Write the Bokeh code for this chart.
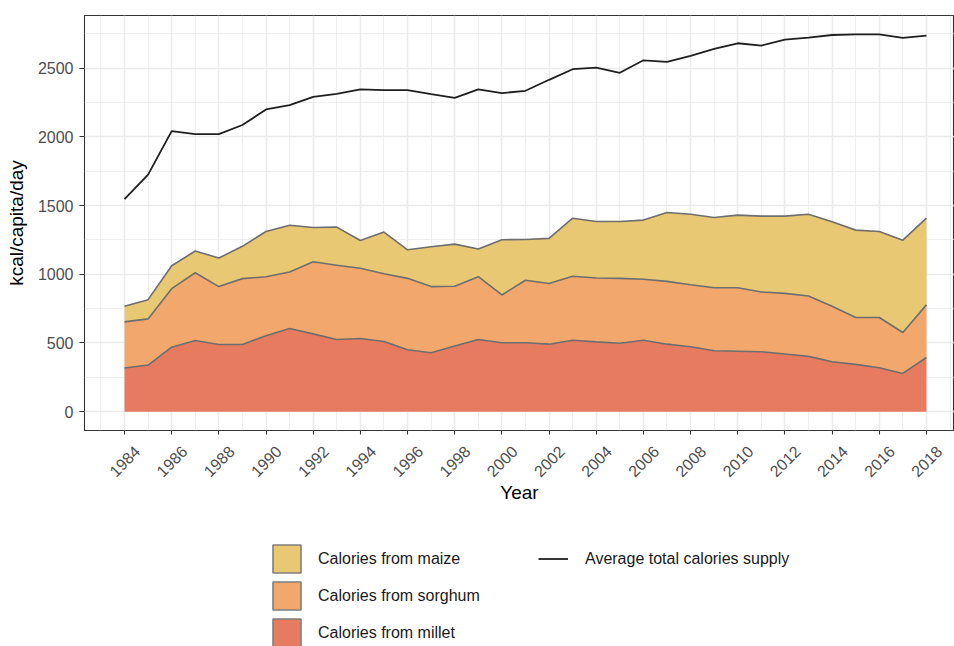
import math
from bokeh.plotting import figure
from bokeh.models import (Range1d, FixedTicker, Legend, LegendItem, ColumnDataSource,
                          LinearAxis)
from bokeh.layouts import column
from bokeh.embed import file_html
from bokeh.resources import INLINE

years = list(range(1984, 2019))
millet = [317, 339, 469, 518, 489, 489, 552, 605, 566, 525, 532, 511, 450, 428, 477, 525, 501, 501,
          491, 520, 508, 498, 520, 491, 472, 443, 440, 436, 419, 402, 363, 344, 319, 278, 394]
sorghum = [336, 336, 426, 493, 421, 479, 430, 411, 525, 540, 511, 493, 520, 482, 435, 457, 348, 455,
           441, 465, 465, 472, 443, 457, 452, 459, 462, 435, 442, 440, 404, 341, 366, 298, 383]
maize = [114, 140, 167, 158, 208, 235, 329, 341, 249, 278, 203, 303, 208, 290, 307, 201, 402, 297,
         329, 423, 411, 414, 431, 501, 513, 511, 528, 552, 562, 595, 615, 636, 626, 672, 631]
total = [1546, 1725, 2042, 2020, 2020, 2086, 2199, 2231, 2291, 2313, 2345, 2340, 2340, 2311, 2284,
         2345, 2318, 2335, 2415, 2492, 2504, 2466, 2557, 2545, 2589, 2640, 2681, 2664, 2707, 2722,
         2741, 2746, 2746, 2720, 2737]

x_ticks = list(range(1984, 2019, 2))
x_minor = list(range(1983, 2020, 2))
y_ticks = [0, 500, 1000, 1500, 2000, 2500]
y_minor = [250, 750, 1250, 1750, 2250, 2750]

area_labels = ["Calories from maize", "Calories from sorghum", "Calories from millet"]
line_label = "Average total calories supply"
x_title = "Year"
y_title = "kcal/capita/day"

c_millet = "#E67B60"
c_sorghum = "#F2A86D"
c_maize = "#E9C874"
c_edge = "#6E6E6E"
c_line = "#1F1F1F"
FONT = "Liberation Sans"

top1 = [m for m in millet]
top2 = [a + b for a, b in zip(top1, sorghum)]
top3 = [a + b for a, b in zip(top2, maize)]

src = ColumnDataSource(dict(year=years, millet=millet, sorghum=sorghum, maize=maize,
                            total=total, top1=top1, top2=top2, top3=top3))

X0, X1 = 1982.304, 2019.19
SHIFT = 0.534  # rotated tick labels are centred under their ticks

p = figure(width=954, height=520, x_range=Range1d(X0, X1),
           y_range=Range1d(-137.3, 2883), output_backend="svg", toolbar_location=None,
           min_border_left=84, min_border_right=0, min_border_top=15, min_border_bottom=90)
p.extra_x_ranges = {"lab": Range1d(X0 - SHIFT, X1 - SHIFT)}

p.varea_stack(["millet", "sorghum", "maize"], x="year", color=[c_millet, c_sorghum, c_maize],
              source=src)
for col in ["top1", "top2", "top3"]:
    p.line("year", col, source=src, line_color=c_edge, line_width=1.6)
p.line("year", "total", source=src, line_color=c_line, line_width=1.8)

p.xaxis.ticker = FixedTicker(ticks=x_ticks, minor_ticks=x_minor)
p.yaxis.ticker = FixedTicker(ticks=y_ticks, minor_ticks=y_minor)

for g in (p.xgrid, p.ygrid):
    g.grid_line_color = "#EBEBEB"
    g.grid_line_width = 1.6
    g.minor_grid_line_color = "#EBEBEB"
    g.minor_grid_line_width = 0.8

p.outline_line_color = "#333333"
p.outline_line_width = 1.1
p.background_fill_color = "white"

def style_axis(ax):
    ax.axis_line_color = None
    ax.minor_tick_line_color = None
    ax.major_tick_line_color = "#333333"
    ax.major_tick_line_width = 1.1
    ax.major_tick_in = 0
    ax.major_label_text_font = FONT
    ax.major_label_text_font_size = "16px"
    ax.major_label_text_color = "#4D4D4D"
    ax.axis_label_text_font = FONT
    ax.axis_label_text_font_size = "19px"
    ax.axis_label_text_font_style = "normal"
    ax.axis_label_text_color = "black"

style_axis(p.yaxis[0])
style_axis(p.xaxis[0])
p.yaxis.axis_label = y_title
p.yaxis.major_tick_out = 5
p.yaxis.major_label_standoff = 6
p.yaxis.axis_label_standoff = 8

# tick marks axis (its own labels are not drawn)
p.xaxis.major_tick_out = 4
p.xaxis.major_label_text_font_size = "1px"
p.xaxis.major_label_text_color = None
p.xaxis.major_label_standoff = 0

# label axis (shifted so rotated labels are centred below the ticks)
lab_ax = LinearAxis(x_range_name="lab", ticker=FixedTicker(ticks=x_ticks))
style_axis(lab_ax)
lab_ax.major_tick_line_color = None
lab_ax.major_tick_out = 0
lab_ax.major_label_orientation = math.pi / 4
lab_ax.major_label_standoff = 14
lab_ax.axis_label = x_title
lab_ax.axis_label_standoff = -3
p.add_layout(lab_ax, "below")

# legend figure
lf = figure(width=954, height=126, x_range=Range1d(0, 1), y_range=Range1d(0, 1),
            output_backend="svg", toolbar_location=None, min_border=0, min_border_left=84,
            x_axis_location=None, y_axis_location=None, outline_line_color=None)
lf.grid.visible = False
rm = lf.quad(left=[2], right=[3], top=[3], bottom=[2], fill_color=c_maize, line_color="#7F7F7F", line_width=1.6)
rs = lf.quad(left=[2], right=[3], top=[3], bottom=[2], fill_color=c_sorghum, line_color="#7F7F7F", line_width=1.6)
rl = lf.quad(left=[2], right=[3], top=[3], bottom=[2], fill_color=c_millet, line_color="#7F7F7F", line_width=1.6)
rt = lf.line(x=[2, 3], y=[2, 3], line_color=c_line, line_width=1.8)

leg_common = dict(orientation="vertical", glyph_height=35, spacing=2, padding=0, margin=0,
                  label_text_font=FONT, label_text_font_size="16px", label_text_color="#1A1A1A",
                  border_line_color=None, background_fill_alpha=0)
leg1 = Legend(items=[LegendItem(label=area_labels[0], renderers=[rm]),
                     LegendItem(label=area_labels[1], renderers=[rs]),
                     LegendItem(label=area_labels[2], renderers=[rl])],
              location=(185, -4), glyph_width=35, label_standoff=14, **leg_common)
leg2 = Legend(items=[LegendItem(label=line_label, renderers=[rt])],
              location=(454, 70), glyph_width=30, label_standoff=17, **leg_common)
lf.add_layout(leg1)
lf.add_layout(leg2)

layout = column(p, lf, spacing=0)
open("out.html", "w").write(file_html(layout, INLINE))
